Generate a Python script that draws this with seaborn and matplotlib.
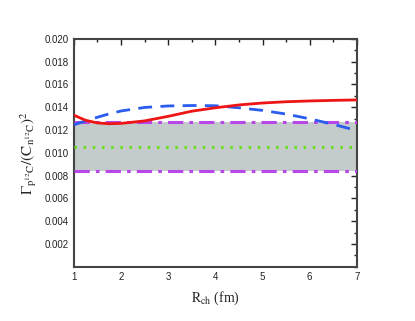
import matplotlib
matplotlib.use("Agg")
import matplotlib.pyplot as plt
import seaborn as sns
import numpy as np
import pandas as pd
from matplotlib.ticker import MultipleLocator, FormatStrFormatter

sns.set_theme(style="white")
plt.rcParams['font.family'] = ['Liberation Sans', 'DejaVu Sans']
plt.rcParams['mathtext.fontset'] = 'stix'

x_red = [1.0, 1.25, 1.5, 1.75, 2.0, 2.5, 3.0, 3.5, 4.0, 4.5, 5.0, 5.5, 6.0, 6.5, 7.0]
y_red = [0.01330, 0.01285, 0.01262, 0.01255, 0.01258, 0.01280, 0.01320, 0.01365,
         0.01395, 0.01420, 0.01437, 0.01448, 0.01455, 0.01460, 0.01464]
x_blue = [1.0, 1.25, 1.5, 1.75, 2.0, 2.5, 3.0, 3.5, 4.0, 4.5, 5.0, 5.5, 6.0, 6.5, 7.0]
y_blue = [0.01245, 0.01280, 0.01312, 0.01342, 0.01367, 0.01398, 0.01411, 0.01415,
          0.01413, 0.01395, 0.01372, 0.01340, 0.01298, 0.01250, 0.01195]
band_x = [1.0, 7.0]
band_low = [0.0084, 0.0084]
band_high = [0.0127, 0.0127]
band_mid = [0.0105, 0.0105]

fig = plt.figure(figsize=(4.15, 3.21), dpi=100)
ax = fig.add_axes([0.178, 0.169, 0.682, 0.710])

ax.fill_between(band_x, band_low, band_high, color='#c4cbcb', zorder=1, linewidth=0)
sns.lineplot(x=band_x, y=band_low, ax=ax, color='#b847e8', lw=2.2,
             linestyle=(0, (5, 2, 1.2, 2)), zorder=3)
sns.lineplot(x=band_x, y=band_high, ax=ax, color='#b847e8', lw=2.2,
             linestyle=(0, (5, 2, 1.2, 2)), zorder=3)
sns.lineplot(x=band_x, y=band_mid, ax=ax, color='#66e019', lw=2.2,
             linestyle=(0, (0.8, 2.2)), zorder=3)
sns.lineplot(x=x_blue, y=y_blue, ax=ax, color='#2a5cf0', lw=2.0,
             linestyle=(0, (5, 3)), zorder=4)
sns.lineplot(x=x_red, y=y_red, ax=ax, color='#ee1515', lw=2.0, zorder=5)

ax.set_xlim(1, 7)
ax.set_ylim(0, 0.020)
ax.xaxis.set_major_locator(MultipleLocator(1))
ax.xaxis.set_minor_locator(MultipleLocator(0.5))
ax.yaxis.set_major_locator(MultipleLocator(0.002))
ax.yaxis.set_minor_locator(MultipleLocator(0.001))
ax.yaxis.set_major_formatter(FormatStrFormatter('%.3f'))
ax.set_yticks([0.002, 0.004, 0.006, 0.008, 0.010, 0.012, 0.014, 0.016, 0.018, 0.020])
ax.tick_params(which='both', direction='in', top=True, right=True, colors='#222222',
               labelsize=7, width=1.0)
ax.tick_params(which='major', length=4)
ax.tick_params(which='minor', length=2)
for s in ax.spines.values():
    s.set_color('#444444')
    s.set_linewidth(1.5)

ax.set_xlabel(r'$\mathrm{R_{ch}}$ (fm)', fontsize=10, family='Liberation Serif', labelpad=6)
ax.set_ylabel(r'$\mathrm{\Gamma_{p^{12}C}/(C_{n^{12}C})^2}$', fontsize=11, labelpad=4)

fig.savefig('out.png', dpi=100)
